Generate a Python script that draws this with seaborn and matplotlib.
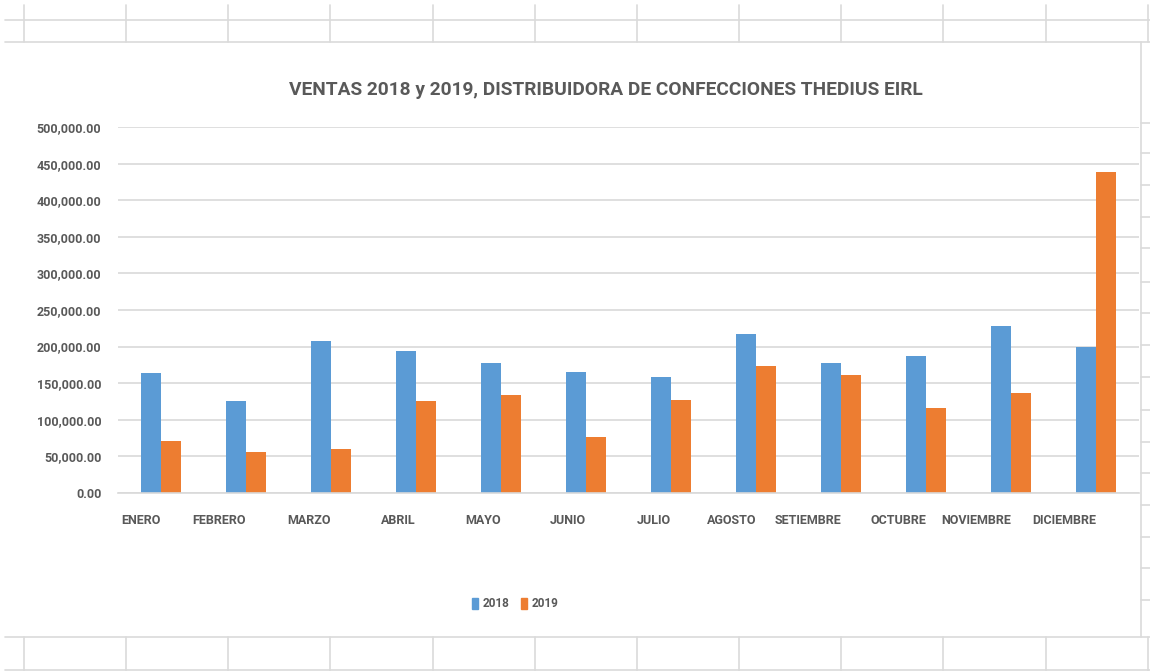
import pandas as pd
import matplotlib.pyplot as plt
import seaborn as sns
from matplotlib.lines import Line2D
from matplotlib.ticker import FuncFormatter

# datos
meses = ['ENERO', 'FEBRERO', 'MARZO', 'ABRIL', 'MAYO', 'JUNIO', 'JULIO',
         'AGOSTO', 'SETIEMBRE', 'OCTUBRE', 'NOVIEMBRE', 'DICIEMBRE']
ventas_2018 = [163600, 125500, 208200, 194500, 177300, 165500, 158600,
               216800, 177300, 187700, 228200, 199100]
ventas_2019 = [71400, 55900, 60500, 125500, 134100, 76400, 127700,
               174100, 160900, 116400, 136400, 438900]
anios = ['2018', '2019']
y_ticks = [0, 50000, 100000, 150000, 200000, 250000, 300000, 350000, 400000, 450000, 500000]

df = pd.DataFrame({
    'mes': meses * 2,
    'ventas': ventas_2018 + ventas_2019,
    'anio': [anios[0]] * 12 + [anios[1]] * 12,
})

azul = '#5B9BD5'
naranja = '#ED7D31'
gris_txt = '#595959'
gris_lin = '#D9D9D9'

sns.set_style('white')
# no hay fuente angosta instalada, Roboto es la mas cercana
plt.rcParams['font.family'] = ['Roboto', 'DejaVu Sans']
plt.rcParams['font.weight'] = 'bold'

fig = plt.figure(figsize=(11.5, 6.71), dpi=100)
ax = fig.add_axes([0.1026, 0.2653, 0.8878, 0.5454])

sns.barplot(data=df, x='mes', y='ventas', hue='anio', palette=[azul, naranja],
            width=0.47, saturation=1, linewidth=0, ax=ax, legend=True)

ax.set_ylim(0, 500000)
ax.set_yticks(y_ticks)
ax.yaxis.set_major_formatter(FuncFormatter(lambda v, p: f'{v:,.2f}'))
ax.yaxis.grid(True, color=gris_lin, linewidth=1.2)
ax.set_axisbelow(True)
ax.set_xlabel('')
ax.set_ylabel('')
for s in ['top', 'right', 'left']:
    ax.spines[s].set_visible(False)
ax.spines['bottom'].set_color(gris_lin)
ax.spines['bottom'].set_linewidth(1.2)
ax.tick_params(axis='both', length=0, colors=gris_txt, labelsize=9)
ax.tick_params(axis='y', pad=12)
ax.tick_params(axis='x', pad=15)
for t in ax.get_xticklabels():
    t.set_ha('right')

# leyenda abajo
ax.legend_.remove()
h = [plt.Rectangle((0, 0), 1, 1, color=azul), plt.Rectangle((0, 0), 1, 1, color=naranja)]
leg = fig.legend(h, anios, loc='center', bbox_to_anchor=(0.448, 0.1), ncol=2,
                 frameon=False, handlelength=0.5, handleheight=1.1,
                 handletextpad=0.4, columnspacing=1.0,
                 prop={'size': 8.5, 'weight': 'bold'})
for t in leg.get_texts():
    t.set_color(gris_txt)

fig.text(0.527, 0.866, 'VENTAS 2018 y 2019, DISTRIBUIDORA DE CONFECCIONES THEDIUS EIRL',
         ha='center', va='center', fontsize=13.8, fontweight='bold', color=gris_txt)

# lineas de la hoja de calculo alrededor del grafico
def linea(x0, x1, y0, y1):
    fig.add_artist(Line2D([x0 / 1150, x1 / 1150], [1 - y0 / 671, 1 - y1 / 671],
                          color='#DADADA', linewidth=1.2))

linea(5, 1150, 20, 20)
linea(5, 1150, 42, 42)
linea(5, 1150, 637, 637)
linea(5, 1150, 670, 670)
linea(1141, 1141, 42, 637)
for xc in [24, 126, 228, 330, 433, 535, 637, 739, 841, 943, 1046, 1148]:
    linea(xc, xc, 5, 42)
    linea(xc, xc, 637, 671)
for yc in [123, 153, 185, 217, 248, 282, 313, 345, 377, 410, 442, 473, 505, 537, 568, 600]:
    linea(1141, 1150, yc, yc)

fig.savefig('out.png', dpi=100)
